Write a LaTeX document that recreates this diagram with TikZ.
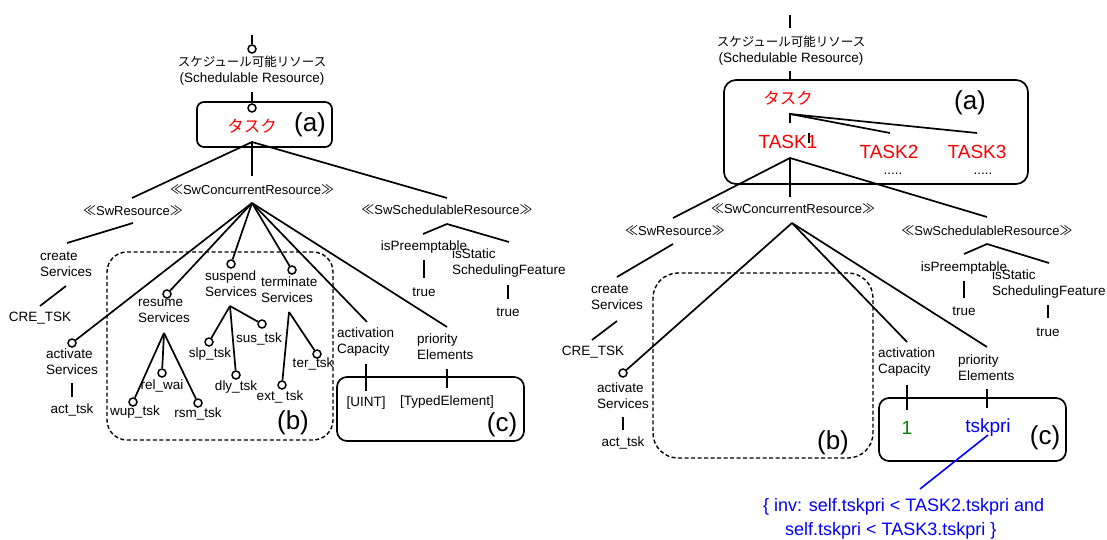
\documentclass[tikz,border=0pt]{standalone}
\usepackage{fontspec}
\setmainfont{Liberation Sans}
\newfontfamily\jp{Noto Sans CJK JP}
\newcommand\stereoname[1]{{\jp ≪}#1{\jp ≫}}
\definecolor{dgreen}{RGB}{0,128,0}
\begin{document}
\begin{tikzpicture}[x=1pt,y=-1pt,
 ln/.style={line width=1.7pt},
 circ/.style={circle,draw,fill=white,line width=1.5pt,minimum size=8pt,inner sep=0pt},
 lbll/.style={inner sep=0pt,font=\fontsize{13.5}{16}\selectfont,align=left,anchor=west},
 st/.style={inner sep=0pt,font=\fontsize{13.5}{16}\selectfont},
 stereo/.style={inner sep=0pt,font=\fontsize{13}{16}\selectfont},
 jpl/.style={inner sep=0pt,font=\jp\fontsize{12.5}{16}\selectfont},
 big/.style={inner sep=0pt,font=\fontsize{26}{30}\selectfont},
 redj/.style={inner sep=0pt,text=red,font=\jp\fontsize{16.5}{18}\selectfont},
 redt/.style={inner sep=0pt,text=red,font=\fontsize{19}{22}\selectfont},
 sbox/.style={draw,line width=1.7pt,rounded corners=#1,inner sep=0pt},
 sbox/.default=8pt,
 dbox/.style={draw,line width=1.4pt,dash pattern=on 4pt off 2.5pt,rounded corners=#1,inner sep=0pt},
 dbox/.default=20pt,
]
\useasboundingbox (0,0) rectangle (1107,540);

%% ================= LEFT DIAGRAM =================
\node[dbox=20pt, minimum width=226pt, minimum height=188pt] (boxB1) at (220,346) {};
\node[sbox=10pt, minimum width=187pt, minimum height=64pt] (boxC1) at (430.5,409) {};
\node[sbox=7pt, minimum width=135pt, minimum height=45pt] (boxA1) at (264.5,124.5) {};

% top
\coordinate (t0) at (252,35);
\node[circ] (c0) at (252,49) {};
\draw[ln] (t0) -- (c0);
\node[jpl] (jp1) at (252,62) {スケジュール可能リソース};
\node[st] (sr1) at (252,79) {(Schedulable Resource)};
\coordinate (t1) at (252,92);
\node[circ] (c1) at (252,108) {};
\draw[ln] (t1) -- (c1);
\node[redj] (task1) at (252,126) {タスク};
\node[big] (la1) at (310,125) {(a)};

% level 1
\coordinate (a1) at (252,142);
\coordinate (swrT1) at (132,198);
\coordinate (sccT1) at (252,176);
\coordinate (sschT1) at (447,198);
\draw[ln] (swrT1) -- (a1) -- (sschT1);
\draw[ln] (a1) -- (sccT1);
\node[stereo] (scc1) at (252,190) {\stereoname{SwConcurrentResource}};
\node[stereo] (swr1) at (133,211) {\stereoname{SwResource}};
\node[stereo] (ssch1) at (447,210) {\stereoname{SwSchedulableResource}};

% SwResource branch
\coordinate (swrB1) at (133,223);
\coordinate (crT1) at (67,243);
\draw[ln] (swrB1) -- (crT1);
\node[lbll] (create1) at (40,264) {create\\Services};
\coordinate (crB1) at (66,286);
\coordinate (creT1) at (40,306);
\draw[ln] (crB1) -- (creT1);
\node[st] (cre1) at (40,318) {CRE\_TSK};

% SwConcurrentResource branch
\coordinate (sc1) at (252,203);
\coordinate (acap1) at (367,322);
\coordinate (prio1) at (447,327);
\node[circ] (act1) at (72,343) {};
\node[circ] (res1) at (167,294) {};
\node[circ] (sus1) at (231,264) {};
\node[circ] (ter1) at (292,270) {};
\draw[ln] (sc1) -- (act1);
\draw[ln] (sc1) -- (res1);
\draw[ln] (sc1) -- (sus1);
\draw[ln] (sc1) -- (ter1);
\draw[ln] (sc1) -- (acap1);
\draw[ln] (sc1) -- (prio1);

\node[lbll] (actl1) at (46,361.5) {activate\\Services};
\coordinate (actB1) at (72,383);
\coordinate (actE1) at (72,397);
\draw[ln] (actB1) -- (actE1);
\node[st] (acttsk1) at (72,410) {act\_tsk};

% resume
\node[lbll] (resl1) at (138,311) {resume\\Services};
\coordinate (resA1) at (164,333);
\node[circ] (wup1) at (133,402) {};
\node[circ] (rel1) at (162,373) {};
\node[circ] (rsm1) at (198,403) {};
\draw[ln] (resA1) -- (wup1);
\draw[ln] (resA1) -- (rel1);
\draw[ln] (resA1) -- (rsm1);
\node[st] (wupl1) at (135,412) {wup\_tsk};
\node[st] (rell1) at (162,386) {rel\_wai};
\node[st] (rsml1) at (198,414) {rsm\_tsk};

% suspend
\node[lbll] (susl1) at (205,283.5) {suspend\\Services};
\coordinate (susA1) at (230,306);
\node[circ] (slp1) at (209,342) {};
\node[circ] (dly1) at (236,375) {};
\node[circ] (sust1) at (262,324) {};
\draw[ln] (susA1) -- (slp1);
\draw[ln] (susA1) -- (dly1);
\draw[ln] (susA1) -- (sust1);
\node[st] (slpl1) at (210,354) {slp\_tsk};
\node[st] (sustl1) at (259,339) {sus\_tsk};
\node[st] (dlyl1) at (236,387) {dly\_tsk};

% terminate
\node[lbll] (terl1) at (261,290) {terminate\\Services};
\coordinate (terA1) at (289,312);
\node[circ] (ext1) at (282,385) {};
\node[circ] (tert1) at (317,354) {};
\draw[ln] (terA1) -- (ext1);
\draw[ln] (terA1) -- (tert1);
\node[st] (extl1) at (280,397) {ext\_ tsk};
\node[st] (tertl1) at (313,364) {ter\_tsk};

\node[big] (lb1) at (293,423) {(b)};

% activation / priority
\node[lbll] (acapl1) at (337,342) {activation\\Capacity};
\coordinate (acB1) at (366,364);
\coordinate (acE1) at (366,391);
\draw[ln] (acB1) -- (acE1);
\node[st] (uint1) at (366,403) {[UINT]};
\node[lbll] (priol1) at (417,347) {priority\\Elements};
\coordinate (prB1) at (447,369);
\coordinate (prE1) at (447,388);
\draw[ln] (prB1) -- (prE1);
\node[st] (typed1) at (447,402) {[TypedElement]};
\node[big] (lc1) at (502,425) {(c)};

% SwSchedulableResource branch
\coordinate (ssA1) at (447,224);
\coordinate (ipT1) at (423,234);
\coordinate (isT1) at (509,242);
\draw[ln] (ipT1) -- (ssA1) -- (isT1);
\node[st] (ip1) at (424,247) {isPreemptable};
\node[lbll] (is1) at (452,263.5) {isStatic\\SchedulingFeature};
\coordinate (ipB1) at (424,260);
\coordinate (ipE1) at (424,278);
\draw[ln] (ipB1) -- (ipE1);
\node[st] (tr1) at (424,292) {true};
\coordinate (isB1) at (508,285);
\coordinate (isE1) at (508,299);
\draw[ln] (isB1) -- (isE1);
\node[st] (tr2) at (508,312) {true};

%% ================= RIGHT DIAGRAM =================
\node[dbox=25pt, minimum width=220pt, minimum height=185pt] (boxB2) at (763,365.5) {};
\node[sbox=10pt, minimum width=187pt, minimum height=63pt] (boxC2) at (972.5,429.5) {};
\node[sbox=12pt, minimum width=304pt, minimum height=104pt] (boxA2) at (876,132) {};

\coordinate (u0) at (790,15);
\coordinate (u1) at (790,28);
\draw[ln] (u0) -- (u1);
\node[jpl] (jp2) at (791,42) {スケジュール可能リソース};
\node[st] (sr2) at (791,59) {(Schedulable Resource)};
\coordinate (u2) at (790,71);
\coordinate (u3) at (790,80);
\draw[ln] (u2) -- (u3);
\node[redj] (task2) at (788,98) {タスク};
\node[big] (la2) at (970,103) {(a)};

\coordinate (ta) at (790,114);
\coordinate (tk1T) at (790,123);
\coordinate (tk2T) at (890,133);
\coordinate (tk3T) at (977,133);
\draw[ln] (tk1T) -- (ta) -- (tk2T);
\draw[ln] (ta) -- (tk3T);
\node[redt] (T1) at (788,142) {TASK1};
\coordinate (mk1) at (809,133);
\coordinate (mk2) at (809,143);
\draw[line width=1.2pt] (mk1) -- (mk2);
\node[redt] (T2) at (889,152) {TASK2};
\node[redt] (T3) at (977,152) {TASK3};
\node[st] (d2) at (893,174) {.....};
\node[st] (d3) at (983,174) {.....};

\coordinate (a2) at (790,158);
\coordinate (swrT2) at (673,218);
\coordinate (sccT2) at (790,197);
\coordinate (sschT2) at (987,217);
\draw[ln] (swrT2) -- (a2) -- (sschT2);
\draw[ln] (a2) -- (sccT2);
\node[stereo] (scc2) at (793,209) {\stereoname{SwConcurrentResource}};
\node[stereo] (swr2) at (675,231) {\stereoname{SwResource}};
\node[stereo] (ssch2) at (987,231) {\stereoname{SwSchedulableResource}};

\coordinate (swrB2) at (673,244);
\coordinate (crT2) at (617,277);
\draw[ln] (swrB2) -- (crT2);
\node[lbll] (create2) at (591,297) {create\\Services};
\coordinate (crB2) at (617,321);
\coordinate (creT2) at (592,340);
\draw[ln] (crB2) -- (creT2);
\node[st] (cre2) at (593,352) {CRE\_TSK};

\coordinate (sc2) at (792,223);
\coordinate (acap2) at (907,342);
\coordinate (prio2) at (987,347);
\node[circ] (act2) at (623,373) {};
\draw[ln] (sc2) -- (act2);
\draw[ln] (sc2) -- (acap2);
\draw[ln] (sc2) -- (prio2);
\node[lbll] (actl2) at (597,395.5) {activate\\Services};
\coordinate (actB2) at (623,417);
\coordinate (actE2) at (623,430);
\draw[ln] (actB2) -- (actE2);
\node[st] (acttsk2) at (623,443) {act\_tsk};
\node[big] (lb2) at (833,443) {(b)};

\node[lbll] (acapl2) at (878,362.5) {activation\\Capacity};
\coordinate (acB2) at (907,385);
\coordinate (acE2) at (907,410);
\draw[ln] (acB2) -- (acE2);
\node[inner sep=0pt,text=dgreen,font=\fontsize{19}{22}\selectfont] (one2) at (907,428) {1};
\node[lbll] (priol2) at (958,367.5) {priority\\Elements};
\coordinate (prB2) at (987,389);
\coordinate (prE2) at (987,408);
\draw[ln] (prB2) -- (prE2);
\node[inner sep=0pt,text=blue,font=\fontsize{19}{22}\selectfont] (tskpri2) at (988,428) {tskpri};
\node[big] (lc2) at (1045,438) {(c)};

\coordinate (tskB) at (988,435);
\coordinate (invT) at (920,489);
\draw[blue,line width=1.6pt] (tskB) -- (invT);
\node[anchor=west,inner sep=0pt,align=left,text=blue,font=\fontsize{18}{24}\selectfont] (inv) at (763,519)
 {\{ inv: self.tskpri < TASK2.tskpri and\\\hspace*{22pt}self.tskpri < TASK3.tskpri \}};

\coordinate (ssA2) at (987,244);
\coordinate (ipT2) at (964,254);
\coordinate (isT2) at (1049,263);
\draw[ln] (ipT2) -- (ssA2) -- (isT2);
\node[st] (ip2) at (964,268) {isPreemptable};
\node[lbll] (is2) at (992,284) {isStatic\\SchedulingFeature};
\coordinate (ipB2) at (964,281);
\coordinate (ipE2) at (964,298);
\draw[ln] (ipB2) -- (ipE2);
\node[st] (tr3) at (964,311) {true};
\coordinate (isB2) at (1048,305);
\coordinate (isE2) at (1048,318);
\draw[ln] (isB2) -- (isE2);
\node[st] (tr4) at (1048,332) {true};

\end{tikzpicture}
\end{document}
